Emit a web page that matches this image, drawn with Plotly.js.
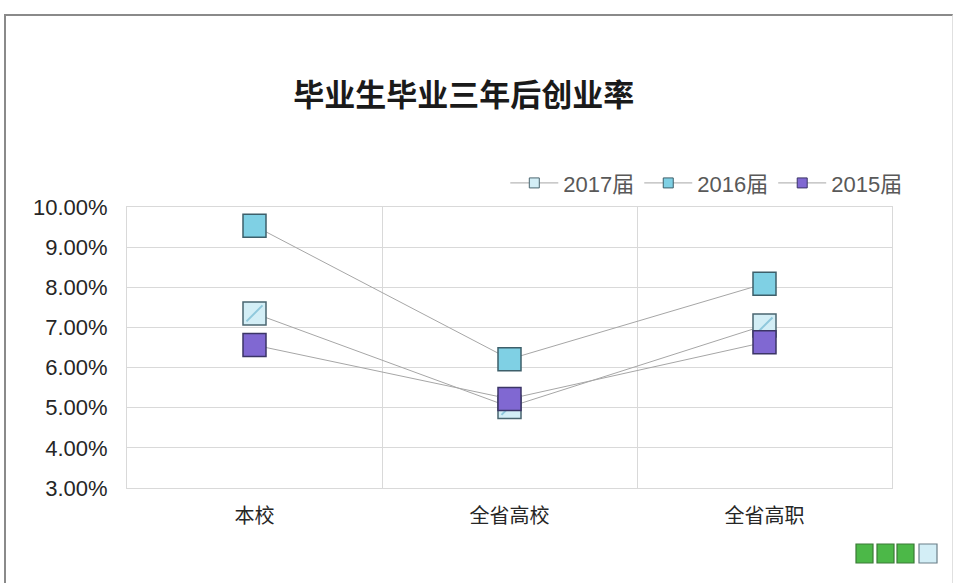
<!DOCTYPE html>
<html>
<head>
<meta charset="utf-8">
<script src="https://cdn.plot.ly/plotly-3.0.1.min.js"></script>
<style>
html,body{margin:0;padding:0;background:#fff;}
#chart{position:absolute;left:0;top:0;width:956px;height:583px;}
#frame{position:absolute;left:4px;top:14px;width:946px;height:600px;border-left:2px solid #8a8a8a;border-top:2px solid #8a8a8a;border-right:1px solid #e0e0e0;pointer-events:none;}
</style>
</head>
<body>
<div id="chart"></div>
<div id="frame"></div>
<script>
const categories = ["本校", "全省高校", "全省高职"];
const seriesNames = ["2017届", "2016届", "2015届"];
const values2017 = [7.35, 5.02, 7.05];
const values2016 = [9.53, 6.21, 8.09];
const values2015 = [6.56, 5.22, 6.63];
const yTicks = [3, 4, 5, 6, 7, 8, 9, 10];

const fillColors = ["#d3eef6", "#7fd0e4", "#8068d2"];
const edgeColors = ["#4a6670", "#3d5f6a", "#3b3566"];
const allValues = [values2017, values2016, values2015];

const traces = [];
allValues.forEach((vals, i) => {
  traces.push({
    type: "scatter",
    mode: "lines+markers",
    name: seriesNames[i],
    showlegend: false,
    x: categories,
    y: vals,
    line: {color: "#a6a6a6", width: 1},
    marker: {symbol: "square", size: 23, color: fillColors[i], line: {color: edgeColors[i], width: 1.5}},
    hoverinfo: "skip"
  });
  if (i === 0) {
    // hatch overlay for the 2017 series
    traces.push({
      type: "scatter",
      mode: "markers",
      x: categories,
      y: vals,
      showlegend: false,
      hoverinfo: "skip",
      marker: {symbol: "line-ne-open", size: 16, color: "#8fc8dc", line: {color: "#8fc8dc", width: 2}}
    });
  }
});

// legend entries (small markers, thin lines)
allValues.forEach((vals, i) => {
  traces.push({
    type: "scatter",
    mode: "lines+markers",
    name: seriesNames[i],
    x: [null], y: [null],
    line: {color: "#a6a6a6", width: 1},
    marker: {symbol: "square", size: 10, color: fillColors[i], line: {color: edgeColors[i], width: 1}},
    hoverinfo: "skip"
  });
});

const px = v => (v - 127) / 765;
const py = v => (488 - v) / 281;
const deco = [[856, 873, "#4cb848"], [877, 894, "#4cb848"], [897, 914, "#4cb848"], [919, 937, "#d3eef6"]];
const shapes = deco.map(d => ({
  type: "rect", xref: "paper", yref: "paper",
  x0: px(d[0]), x1: px(d[1]), y0: py(563), y1: py(544),
  fillcolor: d[2], line: {color: d[2] === "#4cb848" ? "#3a7a36" : "#6a7f88", width: 1.2}
}));

const layout = {
  width: 956, height: 583,
  margin: {l: 127, r: 64, t: 207, b: 95},
  paper_bgcolor: "#ffffff",
  plot_bgcolor: "#ffffff",
  font: {family: "Liberation Sans, Arial, 'Noto Sans CJK SC', sans-serif", color: "#404040", size: 21},
  title: {
    text: "<b>毕业生毕业三年后创业率</b>",
    font: {family: "'Noto Sans CJK SC', sans-serif", size: 31, color: "#1a1a1a"},
    x: 0.485, xref: "container", xanchor: "center",
    y: 1 - 95 / 583, yref: "container", yanchor: "middle"
  },
  showlegend: true,
  legend: {
    orientation: "h", x: 1.02, xanchor: "right", y: 1.085, yanchor: "middle",
    font: {size: 22, color: "#595959"},
    tracegroupgap: 0, itemwidth: 48, bgcolor: "rgba(0,0,0,0)"
  },
  xaxis: {
    type: "category",
    categoryorder: "array", categoryarray: categories,
    range: [-0.5, 2.5],
    tickson: "boundaries",
    showgrid: true, gridcolor: "#d9d9d9", gridwidth: 1,
    showline: true, linecolor: "#d9d9d9", mirror: true,
    ticks: "", ticklen: 0, ticklabelstandoff: 10,
    tickfont: {family: "'Noto Sans CJK SC', sans-serif", size: 20, color: "#262626"},
    fixedrange: true
  },
  yaxis: {
    range: [3, 10],
    tickvals: yTicks,
    ticktext: yTicks.map(v => v.toFixed(2) + "%"),
    showgrid: true, gridcolor: "#d9d9d9", gridwidth: 1,
    showline: true, linecolor: "#d9d9d9", mirror: true,
    zeroline: false,
    ticks: "", ticklabelstandoff: 14,
    tickfont: {size: 22, color: "#262626"},
    fixedrange: true
  },
  shapes: shapes
};

Plotly.newPlot("chart", traces, layout, {displayModeBar: false, staticPlot: true});
</script>
</body>
</html>
